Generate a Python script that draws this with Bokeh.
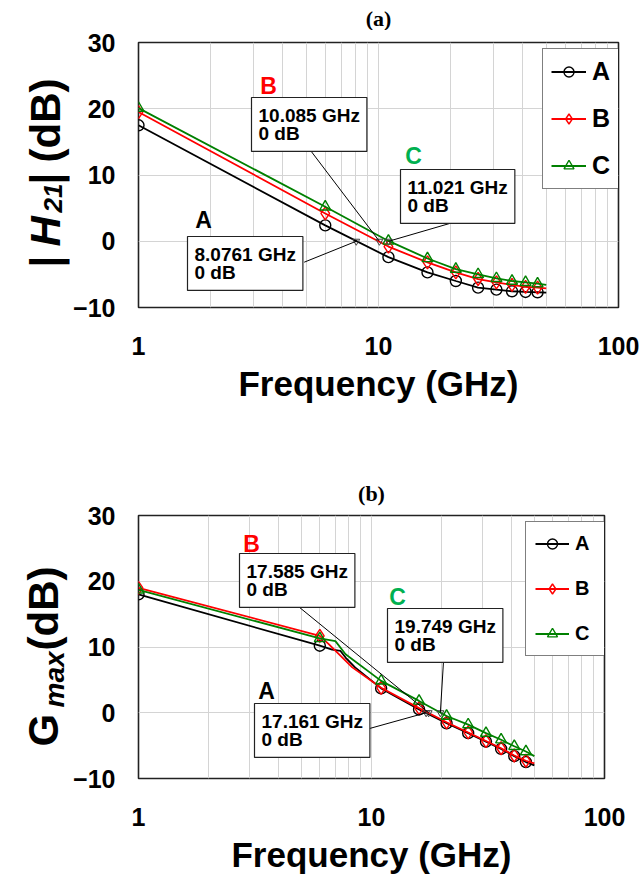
import math
from bokeh.plotting import figure
from bokeh.models import Label, Arrow, Legend, LegendItem, FixedTicker
from bokeh.layouts import column, row
from bokeh.embed import file_html
from bokeh.resources import INLINE

# ---------------- data ----------------
marker_freq = [1, 6, 11, 16, 21, 26, 31, 36, 41, 46]

h21_freq = [1, 6, 11, 16, 21, 26, 31, 36, 41, 46, 50]
h21_A = [17.5, 2.4, -2.4, -4.7, -6.0, -7.0, -7.3, -7.55, -7.65, -7.7, -7.75]
h21_B = [19.5, 4.2, -0.8, -3.2, -4.7, -5.7, -6.2, -6.6, -6.9, -7.0, -7.1]
h21_C = [20.1, 5.2, 0.05, -2.6, -4.2, -5.0, -5.6, -6.0, -6.2, -6.4, -6.6]
h21_cross = [8.0761, 10.085, 11.021]
h21_cross_text = ["8.0761 GHz\n0 dB", "10.085 GHz\n0 dB", "11.021 GHz\n0 dB"]

gmax_A_freq = [1, 6, 6.78, 7.36, 7.74, 8.5, 11, 16, 21, 26, 31, 36, 41, 46, 50]
gmax_A = [18.0, 10.2, 9.6, 9.4, 8.4, 6.9, 3.7, 0.5, -1.6, -3.1, -4.4, -5.5, -6.6, -7.5, -8.0]
gmax_B_freq = [1, 6, 6.57, 8.27, 11, 16, 21, 26, 31, 36, 41, 46, 50]
gmax_B = [19.0, 11.7, 10.4, 6.9, 3.8, 0.7, -1.45, -3.0, -4.3, -5.4, -6.5, -7.3, -7.7]
gmax_C_freq = [1, 6, 7.0, 7.74, 11, 16, 21, 26, 31, 36, 41, 46, 50]
gmax_C = [18.7, 11.3, 10.9, 8.9, 4.85, 1.8, -0.5, -1.8, -3.1, -4.1, -5.1, -5.9, -6.6]
gmax_cross = [17.161, 17.585, 19.749]
gmax_cross_text = ["17.161 GHz\n0 dB", "17.585 GHz\n0 dB", "19.749 GHz\n0 dB"]

series_names = ["A", "B", "C"]
series_colors = ["#000000", "#FF0000", "#008000"]
letter_colors = ["#000000", "#FF0000", "#00B050"]
series_markers = ["circle", "diamond", "triangle"]

x_ticks = [1, 10, 100]
x_minor = [2, 3, 4, 5, 6, 7, 8, 9, 20, 30, 40, 50, 60, 70, 80, 90]
y_ticks = [-10, 0, 10, 20, 30]
y_tick_labels = {-10: "\u221210", 0: "0", 10: "10", 20: "20", 30: "30"}

FONT = "Liberation Sans"
LABW = 70      # width of the strip that carries the y-axis titles
PAGE_W = 640


def no_align(p):
    try:
        p.frame_align = False
    except AttributeError:
        pass


def make_fig(height, mb_left, mb_right, mb_top, mb_bottom):
    p = figure(width=PAGE_W - LABW, height=height, x_axis_type="log",
               x_range=(1, 100), y_range=(-10, 30),
               min_border_left=mb_left, min_border_right=mb_right,
               min_border_top=mb_top, min_border_bottom=mb_bottom,
               output_backend="svg", toolbar_location=None)
    no_align(p)
    p.background_fill_color = "white"
    p.border_fill_color = "white"
    p.outline_line_color = "#222222"
    p.outline_line_width = 1.6
    p.xaxis.ticker = FixedTicker(ticks=x_ticks, minor_ticks=x_minor)
    p.xaxis.major_label_overrides = {t: str(t) for t in x_ticks}
    p.yaxis.ticker = FixedTicker(ticks=y_ticks)
    p.yaxis.major_label_overrides = y_tick_labels
    for ax in (p.xaxis[0], p.yaxis[0]):
        ax.axis_line_color = None
        ax.major_tick_line_color = None
        ax.minor_tick_line_color = None
        ax.major_label_text_font = FONT
        ax.major_label_text_font_style = "bold"
        ax.major_label_text_font_size = "25px"
        ax.major_label_text_color = "black"
    p.xaxis.major_label_standoff = 23
    p.yaxis.major_label_standoff = 17
    p.xaxis.axis_label = "Frequency (GHz)"
    p.xaxis.axis_label_text_font = FONT
    p.xaxis.axis_label_text_font_style = "bold"
    p.xaxis.axis_label_text_font_size = "35px"
    p.xaxis.axis_label_text_color = "black"
    p.xaxis.axis_label_standoff = 6
    p.xgrid.grid_line_color = "#d4d4d4"
    p.xgrid.minor_grid_line_color = "#d4d4d4"
    p.ygrid.grid_line_color = "#d4d4d4"
    return p


def make_strip(width, height):
    s = figure(width=width, height=height, min_border=0, x_range=(0, 1), y_range=(0, 1),
               x_axis_location=None, y_axis_location=None,
               output_backend="svg", toolbar_location=None)
    no_align(s)
    s.outline_line_color = None
    s.grid.visible = False
    s.background_fill_color = "white"
    s.border_fill_color = "white"
    return s


def scr(fr, px, py):
    return px - fr[0], fr[1] - py


def add_series(p, freqs, vals, legend_pos, legend_font, glyph_w, spacing, pad):
    items = []
    for i, name in enumerate(series_names):
        f = freqs[i]
        v = vals[i]
        col = series_colors[i]
        lr = p.line(f, v, line_color=col, line_width=1.8)
        mf = [x for x in f if x in marker_freq]
        mv = [v[k] for k, x in enumerate(f) if x in marker_freq]
        sz = 11 if series_markers[i] != "diamond" else 13
        sr = p.scatter(mf, mv, marker=series_markers[i], size=sz,
                       line_color=col, line_width=1.4, fill_color=None)
        items.append(LegendItem(label=name, renderers=[lr, sr]))
    lg = Legend(items=items, location=legend_pos, orientation="vertical",
                glyph_width=glyph_w, glyph_height=25, label_height=25,
                label_standoff=6, padding=pad, spacing=spacing, margin=0,
                border_line_color="black", border_line_width=1.5,
                background_fill_color="white", background_fill_alpha=1.0,
                label_text_font=FONT, label_text_font_style="bold",
                label_text_font_size=legend_font, label_text_color="black")
    p.add_layout(lg)


def add_notes(p, fr, cross, texts, boxes, letters, starts):
    p.scatter(cross, [0] * len(cross), marker="inverted_triangle", size=7,
              line_color="#404040", line_width=1, fill_color=None)
    for i in range(len(cross)):
        x0, y0 = scr(fr, *starts[i])
        p.add_layout(Arrow(end=None, x_start=x0, y_start=y0, start_units="screen",
                           x_end=cross[i], y_end=0, end_units="data",
                           line_color="black", line_width=1))
        bx, by = scr(fr, boxes[i][0], boxes[i][1])
        p.add_layout(Label(x=bx, y=by, x_units="screen", y_units="screen",
                           text=texts[i], text_font=FONT, text_font_style="bold",
                           text_font_size="19px", text_color="black",
                           text_align="left", text_baseline="top",
                           text_line_height=0.9, padding=7,
                           border_line_color="#222222", border_line_width=1.2,
                           background_fill_color="white", background_fill_alpha=1.0))
        lx, ly = scr(fr, *letters[i])
        p.add_layout(Label(x=lx, y=ly, x_units="screen", y_units="screen",
                           text=series_names[i], text_font=FONT, text_font_style="bold",
                           text_font_size="23px", text_color=letter_colors[i],
                           text_align="center", text_baseline="middle"))


def add_text(p, fr, px, py, text, size, style="bold", angle=0.0, align="left",
             font=FONT):
    x, y = scr(fr, px, py)
    p.add_layout(Label(x=x, y=y, x_units="screen", y_units="screen", text=text,
                       text_font=font, text_font_style=style, text_font_size=size,
                       text_color="black", angle=angle, text_align=align,
                       text_baseline="middle"))


R = math.pi / 2

# ---------------- header (a) ----------------
HD1 = 30
hd1 = make_strip(PAGE_W, HD1)
add_text(hd1, (0, HD1), 378, 18, "(a)", "22px", align="center", font="Liberation Serif")

# ---------------- top figure ----------------
TOP1 = HD1
TOP2 = 469
H1 = TOP2 - TOP1
FR1 = (137, 307)  # frame left, frame bottom (page px)
p1 = make_fig(H1, 137 - LABW, PAGE_W - 618, 42 - TOP1, TOP1 + H1 - 307)
add_series(p1, [h21_freq, h21_freq, h21_freq], [h21_A, h21_B, h21_C],
           (404, 118), "25px", 35, 18, 8)
add_notes(p1, FR1, h21_cross, h21_cross_text,
          boxes=[(186, 236), (250, 97), (399, 169)],
          letters=[(202, 219), (267, 85), (412, 155)],
          starts=[(302.7, 261.7), (308.3, 149), (456, 220.7)])
s1 = make_strip(LABW, H1)
ST1 = (0, TOP1 + H1)
add_text(s1, ST1, 45, 267, "|", "42px", angle=R)
add_text(s1, ST1, 45, 246, "H", "42px", style="bold italic", angle=R)
add_text(s1, ST1, 52, 212, "21", "26px", style="bold italic", angle=R)
add_text(s1, ST1, 45, 184, "|", "42px", angle=R)
add_text(s1, ST1, 45, 162, "(dB)", "42px", angle=R)

# ---------------- bottom figure ----------------
H2 = 876 - TOP2
FR2 = (135, 778)
p2 = make_fig(H2, 135 - LABW, PAGE_W - 604, 514 - TOP2, TOP2 + H2 - 778)
p2.title.text = "(b)"
p2.title.align = "center"
p2.title.text_font = "Liberation Serif"
p2.title.text_font_style = "bold"
p2.title.text_font_size = "22px"
p2.title.text_color = "black"
p2.title.standoff = 19
add_series(p2, [gmax_A_freq, gmax_B_freq, gmax_C_freq], [gmax_A, gmax_B, gmax_C],
           (387, 122), "20px", 34, 20, 9)
add_notes(p2, FR2, gmax_cross, gmax_cross_text,
          boxes=[(251, 703), (236, 553), (384, 608)],
          letters=[(263, 690), (248, 543), (394, 596)],
          starts=[(365, 728.3), (293.3, 604.7), (440, 660.7)])
s2 = make_strip(LABW, H2)
ST2 = (0, TOP2 + H2)
add_text(s2, ST2, 43, 746, "G", "42px", angle=R)
add_text(s2, ST2, 54, 707, "max", "28px", style="bold italic", angle=R)
add_text(s2, ST2, 43, 650, "(dB)", "42px", angle=R)

layout = column(hd1, row(s1, p1, spacing=0), row(s2, p2, spacing=0), spacing=0)
open("out.html", "w").write(file_html(layout, INLINE))
